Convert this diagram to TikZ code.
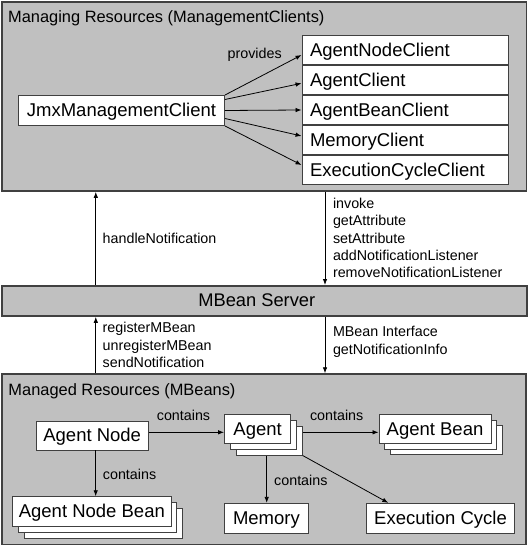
\documentclass[tikz,border=0pt]{standalone}
\usepackage{fontspec}
\setmainfont{Liberation Sans}
\usetikzlibrary{arrows.meta,shadows,calc}
\definecolor{panelgray}{HTML}{C0C0C0}
\definecolor{edgegray}{HTML}{404040}
\tikzset{
  panel/.style={draw=edgegray, line width=1.8pt, fill=panelgray, inner sep=0pt},
  box/.style={draw=edgegray, line width=0.9pt, fill=white, inner sep=0pt,
    text height=12.5pt, text depth=0pt,
    font=\fontsize{18.5}{22}\selectfont},
  clientbox/.style={box, minimum height=29.6pt, text width=190pt, inner xsep=8pt, align=left},
  stackbox/.style={box,
    copy shadow={shadow xshift=11.6pt, shadow yshift=-11.6pt, draw=edgegray, fill=white, line width=0.9pt},
    copy shadow={shadow xshift=5.8pt, shadow yshift=-5.8pt, draw=edgegray, fill=white, line width=0.9pt}},
  arr/.style={draw=black, line width=0.8pt, -{Latex[length=6pt,width=4.5pt]}},
  lbl/.style={font=\fontsize{14.3}{17.2}\selectfont, inner sep=0pt, align=left},
  ttl/.style={font=\fontsize{16.4}{19}\selectfont, inner sep=0pt},
}
\begin{document}
\begin{tikzpicture}[x=1pt, y=-1pt]
\useasboundingbox (0,0) rectangle (527,545);

% panels
\node[panel, anchor=north west, minimum width=524.5pt, minimum height=189pt] (mgr) at (1,1) {};
\node[panel, anchor=north west, minimum width=525pt, minimum height=30pt] (srv) at (1,285) {};
\node[panel, anchor=north west, minimum width=524pt, minimum height=170.7pt] (mgd) at (1,373.3) {};

\node[ttl, anchor=base west] (mgrtitle) at (8,22.3) {Managing Resources (ManagementClients)};
\node[ttl, anchor=base west] (mgdtitle) at (8.3,395.8) {Managed Resources (MBeans)};
\node[font=\fontsize{18.3}{22}\selectfont, inner sep=0pt] (srvlabel) at (256.8,300) {MBean Server};

% top content
\node[box, minimum width=206pt, minimum height=30pt] (jmx) at (121.5,110.5) {JmxManagementClient};
\node[clientbox] (c1) at (405,50) {AgentNodeClient};
\node[clientbox] (c2) at (405,80) {AgentClient};
\node[clientbox] (c3) at (405,110) {AgentBeanClient};
\node[clientbox] (c4) at (405,140) {MemoryClient};
\node[clientbox] (c5) at (405,170) {ExecutionCycleClient};

\draw[arr] (jmx.north east) -- ([yshift=-5pt]c1.west);
\draw[arr] ([yshift=11pt]jmx.east) -- ([yshift=-3.3pt]c2.west);
\draw[arr] (jmx.east) -- (c3.west);
\draw[arr] ([yshift=-8pt]jmx.east) -- ([yshift=4pt]c4.west);
\draw[arr] (jmx.south east) -- ([yshift=5pt]c5.west);
\node[lbl] (provides) at (254.7,55) {provides};

% middle connectors
\coordinate (lx) at (95.8,0);
\coordinate (rx) at (325,0);
\draw[arr] (srv.north -| lx) -- (mgr.south -| lx);
\draw[arr] (mgr.south -| rx) -- (srv.north -| rx);
\draw[arr] (mgd.north -| lx) -- (srv.south -| lx);
\draw[arr] (srv.south -| rx) -- (mgd.north -| rx);

\node[lbl, anchor=west] (hn) at (102.5,238.1) {handleNotification};
\node[lbl, anchor=west] (ops) at (332.8,237.9) {invoke\\getAttribute\\setAttribute\\addNotificationListener\\removeNotificationListener};
\node[lbl, anchor=west] (reg) at (102.5,345) {registerMBean\\unregisterMBean\\sendNotification};
\node[lbl, anchor=west] (intf) at (332.8,341.8) {MBean Interface\\getNotificationInfo};

% bottom content
\node[box, minimum width=112.3pt, minimum height=29pt] (an) at (92.2,435.5) {Agent Node};
\node[stackbox, minimum width=66.2pt, minimum height=29pt] (ag) at (257.6,429) {Agent};
\node[stackbox, minimum width=112pt, minimum height=29pt] (ab) at (435,428.8) {Agent Bean};
\node[stackbox, minimum width=158.3pt, minimum height=30pt] (anb) at (91.85,511.7) {Agent Node Bean};
\node[box, minimum width=83.8pt, minimum height=30pt] (mem) at (266.4,518.3) {Memory};
\node[box, minimum width=147.6pt, minimum height=30pt] (exec) at (440.5,518.3) {Execution Cycle};

\coordinate (ay) at (0,432.3);
\coordinate (anx) at (95.7,0);
\coordinate (memx) at (266.7,0);
\coordinate (exx) at (388.3,0);
\draw[arr] (an.east |- ay) -- (ag.west |- ay);
\draw[arr] ([xshift=11.6pt]ag.east |- ay) -- (ab.west |- ay);
\draw[arr] (an.south -| anx) -- (anb.north -| anx);
\draw[arr] ([yshift=-11.6pt]ag.south -| memx) -- (mem.north -| memx);
\draw[arr] ([shift={(11.6pt,-11.6pt)}]ag.south east) -- (exec.north -| exx);

\node[lbl] (ct1) at (183.5,415) {contains};
\node[lbl] (ct2) at (336.7,415) {contains};
\node[lbl, anchor=west] (ct3) at (102.7,474.3) {contains};
\node[lbl, anchor=west] (ct4) at (274,480) {contains};
\end{tikzpicture}
\end{document}
